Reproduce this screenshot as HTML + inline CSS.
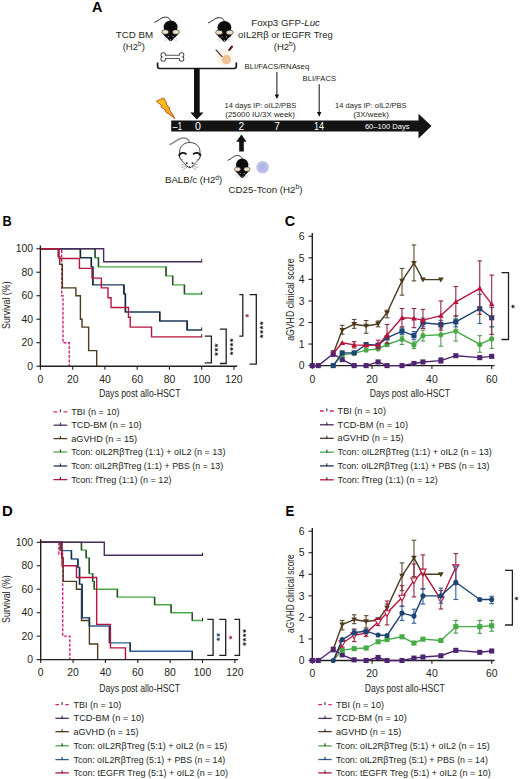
<!DOCTYPE html>
<html><head><meta charset="utf-8"><title>Figure</title><style>html,body{margin:0;padding:0;background:#fff;width:520px;height:779px;overflow:hidden;}svg{display:block;font-family:"Liberation Sans",sans-serif;}</style></head><body>
<svg width="520" height="779" viewBox="0 0 520 779" font-family="Liberation Sans, sans-serif">
<rect width="520" height="779" fill="#fff"/>
<text x="92.10" y="11.90" font-size="13.8" font-weight="bold" fill="#000" textLength="10.40" lengthAdjust="spacingAndGlyphs">A</text>
<text x="115.70" y="38.30" font-size="9.5" fill="#231f20" textLength="37.40" lengthAdjust="spacingAndGlyphs">TCD BM</text>
<text x="122.70" y="49.80" font-size="9.5" fill="#231f20">(H2<tspan font-size="6.5" dy="-3.6">b</tspan><tspan dy="3.6">)</tspan></text>
<text x="251.20" y="25.80" font-size="9.5" fill="#231f20" textLength="68.80" lengthAdjust="spacingAndGlyphs">Foxp3 GFP-<tspan font-style="italic">Luc</tspan></text>
<text x="238.10" y="38.00" font-size="9.5" fill="#231f20" textLength="94.60" lengthAdjust="spacingAndGlyphs">oIL2R&#946; or tEGFR Treg</text>
<text x="273.80" y="49.50" font-size="9.5" fill="#231f20">(H2<tspan font-size="6.5" dy="-3.6">b</tspan><tspan dy="3.6">)</tspan></text>
<text x="244.60" y="68.80" font-size="7.3" fill="#231f20" textLength="64.60" lengthAdjust="spacingAndGlyphs">BLI/FACS/RNAseq</text>
<text x="302.60" y="81.00" font-size="7.3" fill="#231f20" textLength="33.40" lengthAdjust="spacingAndGlyphs">BLI/FACS</text>
<text x="224.60" y="108.20" font-size="7.6" fill="#231f20" textLength="71.60" lengthAdjust="spacingAndGlyphs">14 days IP: oIL2/PBS</text>
<text x="225.30" y="117.10" font-size="7.6" fill="#231f20" textLength="69.60" lengthAdjust="spacingAndGlyphs">(25000 IU/3X week)</text>
<text x="335.10" y="108.10" font-size="7.6" fill="#231f20" textLength="71.40" lengthAdjust="spacingAndGlyphs">14 days IP: oIL2/PBS</text>
<text x="353.20" y="117.00" font-size="7.6" fill="#231f20" textLength="35.60" lengthAdjust="spacingAndGlyphs">(3X/week)</text>
<path d="M157.6,62.4 L157.6,66.3 Q157.6,68.5 159.8,68.5 L234.1,68.5 Q236.3,68.5 236.3,66.3 L236.3,62.4" fill="none" stroke="#1a1a1a" stroke-width="1.7"/>
<rect x="194.0" y="68" width="5.7" height="45" fill="#111"/>
<path d="M190.2,112.5 L203.5,112.5 L196.85,119.5 Z" fill="#111"/>
<line x1="276.90" y1="72.00" x2="276.90" y2="96.00" stroke="#111" stroke-width="1.0"/>
<path d="M274.6,94.5 L279.2,94.5 L276.9,99 Z" fill="#111"/>
<line x1="319.20" y1="84.20" x2="319.20" y2="113.50" stroke="#111" stroke-width="1.0"/>
<path d="M316.9,112 L321.5,112 L319.2,116.8 Z" fill="#111"/>
<path d="M171.2,120.6 L418.5,120.6 L418.5,113.8 L431.5,126 L418.5,138.4 L418.5,131.6 L171.2,131.6 Z" fill="#141414"/>
<text x="172.80" y="129.90" font-size="10.2" fill="#fff" textLength="9.40" lengthAdjust="spacingAndGlyphs">&#8211;1</text>
<text x="194.90" y="129.90" font-size="10.2" fill="#fff" textLength="5.90" lengthAdjust="spacingAndGlyphs">0</text>
<text x="238.50" y="129.90" font-size="10.2" fill="#fff" textLength="5.60" lengthAdjust="spacingAndGlyphs">2</text>
<text x="274.30" y="129.90" font-size="10.2" fill="#fff" textLength="5.60" lengthAdjust="spacingAndGlyphs">7</text>
<text x="314.00" y="129.90" font-size="10.2" fill="#fff" textLength="10.10" lengthAdjust="spacingAndGlyphs">14</text>
<text x="364.90" y="129.00" font-size="7.6" fill="#fff" textLength="44.70" lengthAdjust="spacingAndGlyphs">60&#8211;100 Days</text>
<rect x="239.2" y="140.5" width="4.6" height="11" fill="#111"/>
<path d="M236.2,141.8 L246.6,141.8 L241.4,134.6 Z" fill="#111"/>
<defs><linearGradient id="boltg" x1="0" y1="0" x2="0.6" y2="1"><stop offset="0" stop-color="#ffc81a"/><stop offset="1" stop-color="#f5a01c"/></linearGradient></defs>
<path d="M156.3,101.2 L163.5,97.9 L166.8,103.2 L166.0,103.9 L169.9,108.2 L169.1,108.9 L175.0,118.6 L165.0,111.3 L165.9,110.5 L160.8,106.6 L161.8,105.6 Z" fill="url(#boltg)" stroke="#b0501a" stroke-width="0.9" stroke-linejoin="round"/>
<text x="165.00" y="183.40" font-size="9.8" fill="#231f20" textLength="57.20" lengthAdjust="spacingAndGlyphs">BALB/c (H2<tspan font-size="6.7" dy="-3.7">d</tspan><tspan dy="3.7">)</tspan></text>
<text x="228.60" y="192.80" font-size="9.8" fill="#231f20" textLength="73.80" lengthAdjust="spacingAndGlyphs">CD25-Tcon (H2<tspan font-size="6.7" dy="-3.7">b</tspan><tspan dy="3.7">)</tspan></text>
<defs><radialGradient id="cellg"><stop offset="0" stop-color="#aab0e2"/><stop offset="0.6" stop-color="#b6bae8"/><stop offset="1" stop-color="#c4c8ee"/></radialGradient><radialGradient id="tregg"><stop offset="0" stop-color="#f6c89c"/><stop offset="1" stop-color="#eeb888"/></radialGradient></defs>
<circle cx="262.6" cy="167.2" r="6.3" fill="url(#cellg)"/>
<text x="2.50" y="225.60" font-size="14" font-weight="bold" fill="#000" textLength="9.20" lengthAdjust="spacingAndGlyphs">B</text>
<polyline points="40.40,248.75 61.69,248.75 61.69,295.73 62.98,295.73 62.98,342.71 69.27,342.71 69.27,366.20" fill="none" stroke="#d8207e" stroke-width="1.4" stroke-dasharray="3,1.5" stroke-linejoin="miter" stroke-linecap="butt"/>
<polyline points="40.40,248.75 58.14,248.75 58.14,256.62 59.76,256.62 59.76,264.37 62.34,264.37 62.34,287.86 75.89,287.86 75.89,295.73 80.40,295.73 80.40,319.22 82.02,319.22 82.02,327.09 88.63,327.09 88.63,350.58 96.69,350.58 96.69,366.20" fill="none" stroke="#4e3a1e" stroke-width="1.4" stroke-linejoin="miter" stroke-linecap="butt"/>
<polyline points="40.40,248.75 95.08,248.75 95.08,257.79 98.47,257.79 98.47,266.84 166.05,266.84 166.05,275.88 172.67,275.88 172.67,284.92 184.44,284.92 184.44,293.97 201.70,293.97" fill="none" stroke="#46aa46" stroke-width="1.4" stroke-linejoin="miter" stroke-linecap="butt"/>
<line x1="95.08" y1="248.75" x2="95.08" y2="257.79" stroke="#2c452c" stroke-width="1.4"/>
<line x1="98.47" y1="257.79" x2="98.47" y2="266.84" stroke="#2c452c" stroke-width="1.4"/>
<line x1="166.05" y1="266.84" x2="166.05" y2="275.88" stroke="#2c452c" stroke-width="1.4"/>
<line x1="172.67" y1="275.88" x2="172.67" y2="284.92" stroke="#2c452c" stroke-width="1.4"/>
<line x1="184.44" y1="284.92" x2="184.44" y2="293.97" stroke="#2c452c" stroke-width="1.4"/>
<line x1="201.70" y1="294.57" x2="201.70" y2="291.37" stroke="#222" stroke-width="1.0"/>
<polyline points="40.40,248.75 80.40,248.75 80.40,257.79 91.37,257.79 91.37,266.84 92.82,266.84 92.82,284.92 123.95,284.92 123.95,293.97 125.41,293.97 125.41,311.94 159.76,311.94 159.76,320.98 187.18,320.98 187.18,330.03 201.70,330.03" fill="none" stroke="#1c3a5e" stroke-width="1.4" stroke-linejoin="miter" stroke-linecap="butt"/>
<line x1="80.40" y1="248.75" x2="80.40" y2="257.79" stroke="#14223a" stroke-width="1.4"/>
<line x1="91.37" y1="257.79" x2="91.37" y2="266.84" stroke="#14223a" stroke-width="1.4"/>
<line x1="92.82" y1="266.84" x2="92.82" y2="284.92" stroke="#14223a" stroke-width="1.4"/>
<line x1="123.95" y1="284.92" x2="123.95" y2="293.97" stroke="#14223a" stroke-width="1.4"/>
<line x1="125.41" y1="293.97" x2="125.41" y2="311.94" stroke="#14223a" stroke-width="1.4"/>
<line x1="159.76" y1="311.94" x2="159.76" y2="320.98" stroke="#14223a" stroke-width="1.4"/>
<line x1="187.18" y1="320.98" x2="187.18" y2="330.03" stroke="#14223a" stroke-width="1.4"/>
<line x1="201.70" y1="330.63" x2="201.70" y2="327.43" stroke="#222" stroke-width="1.0"/>
<polyline points="40.40,248.75 103.63,248.75 103.63,261.79 201.70,261.79" fill="none" stroke="#4a2c5e" stroke-width="1.4" stroke-linejoin="miter" stroke-linecap="butt"/>
<line x1="201.70" y1="262.39" x2="201.70" y2="259.19" stroke="#222" stroke-width="1.0"/>
<polyline points="40.40,248.75 59.11,248.75 59.11,258.50 79.43,258.50 79.43,268.36 92.02,268.36 92.02,278.11 101.37,278.11 101.37,287.86 107.98,287.86 107.98,297.73 111.05,297.73 111.05,307.47 128.47,307.47 128.47,317.22 130.24,317.22 130.24,327.09 151.54,327.09 151.54,336.84 201.70,336.84" fill="none" stroke="#b8143c" stroke-width="1.4" stroke-linejoin="miter" stroke-linecap="butt"/>
<line x1="201.70" y1="337.44" x2="201.70" y2="334.24" stroke="#222" stroke-width="1.0"/>
<line x1="40.40" y1="245.50" x2="40.40" y2="366.90" stroke="#231f20" stroke-width="1.4"/>
<line x1="39.70" y1="366.20" x2="237.20" y2="366.20" stroke="#231f20" stroke-width="1.4"/>
<line x1="36.40" y1="366.20" x2="40.40" y2="366.20" stroke="#231f20" stroke-width="1.1"/>
<text x="33.00" y="369.90" font-size="10.4" text-anchor="end" fill="#231f20">0</text>
<line x1="36.40" y1="342.71" x2="40.40" y2="342.71" stroke="#231f20" stroke-width="1.1"/>
<text x="33.00" y="346.41" font-size="10.4" text-anchor="end" fill="#231f20">20</text>
<line x1="36.40" y1="319.22" x2="40.40" y2="319.22" stroke="#231f20" stroke-width="1.1"/>
<text x="33.00" y="322.92" font-size="10.4" text-anchor="end" fill="#231f20">40</text>
<line x1="36.40" y1="295.73" x2="40.40" y2="295.73" stroke="#231f20" stroke-width="1.1"/>
<text x="33.00" y="299.43" font-size="10.4" text-anchor="end" fill="#231f20">60</text>
<line x1="36.40" y1="272.24" x2="40.40" y2="272.24" stroke="#231f20" stroke-width="1.1"/>
<text x="33.00" y="275.94" font-size="10.4" text-anchor="end" fill="#231f20">80</text>
<line x1="36.40" y1="248.75" x2="40.40" y2="248.75" stroke="#231f20" stroke-width="1.1"/>
<text x="33.00" y="252.45" font-size="10.4" text-anchor="end" fill="#231f20">100</text>
<line x1="40.40" y1="366.20" x2="40.40" y2="369.70" stroke="#231f20" stroke-width="1.1"/>
<text x="40.40" y="383.10" font-size="10.4" text-anchor="middle" fill="#231f20">0</text>
<line x1="72.66" y1="366.20" x2="72.66" y2="369.70" stroke="#231f20" stroke-width="1.1"/>
<text x="72.66" y="383.10" font-size="10.4" text-anchor="middle" fill="#231f20">20</text>
<line x1="104.92" y1="366.20" x2="104.92" y2="369.70" stroke="#231f20" stroke-width="1.1"/>
<text x="104.92" y="383.10" font-size="10.4" text-anchor="middle" fill="#231f20">40</text>
<line x1="137.18" y1="366.20" x2="137.18" y2="369.70" stroke="#231f20" stroke-width="1.1"/>
<text x="137.18" y="383.10" font-size="10.4" text-anchor="middle" fill="#231f20">60</text>
<line x1="169.44" y1="366.20" x2="169.44" y2="369.70" stroke="#231f20" stroke-width="1.1"/>
<text x="169.44" y="383.10" font-size="10.4" text-anchor="middle" fill="#231f20">80</text>
<line x1="201.70" y1="366.20" x2="201.70" y2="369.70" stroke="#231f20" stroke-width="1.1"/>
<text x="201.70" y="383.10" font-size="10.4" text-anchor="middle" fill="#231f20">100</text>
<line x1="233.96" y1="366.20" x2="233.96" y2="369.70" stroke="#231f20" stroke-width="1.1"/>
<text x="233.96" y="383.10" font-size="10.4" text-anchor="middle" fill="#231f20">120</text>
<text x="98.90" y="397.30" font-size="10.4" fill="#231f20" textLength="81.60" lengthAdjust="spacingAndGlyphs">Days post allo-HSCT</text>
<text transform="translate(10.40,305.20) rotate(-90)" font-size="10.4" text-anchor="middle" fill="#231f20" textLength="47.60" lengthAdjust="spacingAndGlyphs">Survival (%)</text>
<polyline points="204.70,336.20 211.40,336.20 211.40,362.90 204.70,362.90" fill="none" stroke="#231f20" stroke-width="1.3"/>
<polygon points="214.47,345.40 215.70,344.93 215.77,343.61 216.60,344.63 217.87,344.29 217.16,345.40 217.87,346.51 216.60,346.17 215.77,347.19 215.70,345.87" fill="#231f20" stroke="#231f20" stroke-width="0.35" stroke-linejoin="round"/>
<polygon points="214.47,349.75 215.70,349.28 215.77,347.96 216.60,348.98 217.87,348.64 217.16,349.75 217.87,350.86 216.60,350.52 215.77,351.54 215.70,350.22" fill="#231f20" stroke="#231f20" stroke-width="0.35" stroke-linejoin="round"/>
<polygon points="214.47,354.10 215.70,353.63 215.77,352.31 216.60,353.33 217.87,352.99 217.16,354.10 217.87,355.21 216.60,354.87 215.77,355.89 215.70,354.57" fill="#231f20" stroke="#231f20" stroke-width="0.35" stroke-linejoin="round"/>
<polyline points="219.90,329.20 226.20,329.20 226.20,363.50 219.90,363.50" fill="none" stroke="#231f20" stroke-width="1.3"/>
<polygon points="229.72,340.30 230.95,339.83 231.02,338.51 231.85,339.53 233.12,339.19 232.41,340.30 233.12,341.41 231.85,341.07 231.02,342.09 230.95,340.77" fill="#231f20" stroke="#231f20" stroke-width="0.35" stroke-linejoin="round"/>
<polygon points="229.72,344.65 230.95,344.18 231.02,342.86 231.85,343.88 233.12,343.54 232.41,344.65 233.12,345.76 231.85,345.42 231.02,346.44 230.95,345.12" fill="#231f20" stroke="#231f20" stroke-width="0.35" stroke-linejoin="round"/>
<polygon points="229.72,349.00 230.95,348.53 231.02,347.21 231.85,348.23 233.12,347.89 232.41,349.00 233.12,350.11 231.85,349.77 231.02,350.79 230.95,349.47" fill="#231f20" stroke="#231f20" stroke-width="0.35" stroke-linejoin="round"/>
<polygon points="229.72,353.35 230.95,352.88 231.02,351.56 231.85,352.58 233.12,352.24 232.41,353.35 233.12,354.46 231.85,354.12 231.02,355.14 230.95,353.82" fill="#231f20" stroke="#231f20" stroke-width="0.35" stroke-linejoin="round"/>
<polyline points="239.30,294.60 242.80,294.60 242.80,336.20 239.30,336.20" fill="none" stroke="#231f20" stroke-width="1.3"/>
<polygon points="245.31,315.70 246.55,315.23 246.62,313.91 247.45,314.93 248.72,314.59 248.01,315.70 248.72,316.81 247.45,316.47 246.62,317.49 246.55,316.17" fill="#9a1c44" stroke="#9a1c44" stroke-width="0.35" stroke-linejoin="round"/>
<polyline points="249.50,294.60 256.30,294.60 256.30,364.20 249.50,364.20" fill="none" stroke="#231f20" stroke-width="1.3"/>
<polygon points="259.72,323.20 260.95,322.73 261.02,321.41 261.85,322.43 263.12,322.09 262.41,323.20 263.12,324.31 261.85,323.97 261.02,324.99 260.95,323.67" fill="#231f20" stroke="#231f20" stroke-width="0.35" stroke-linejoin="round"/>
<polygon points="259.72,327.55 260.95,327.08 261.02,325.76 261.85,326.78 263.12,326.44 262.41,327.55 263.12,328.66 261.85,328.32 261.02,329.34 260.95,328.02" fill="#231f20" stroke="#231f20" stroke-width="0.35" stroke-linejoin="round"/>
<polygon points="259.72,331.90 260.95,331.43 261.02,330.11 261.85,331.13 263.12,330.79 262.41,331.90 263.12,333.01 261.85,332.67 261.02,333.69 260.95,332.37" fill="#231f20" stroke="#231f20" stroke-width="0.35" stroke-linejoin="round"/>
<polygon points="259.72,336.25 260.95,335.78 261.02,334.46 261.85,335.48 263.12,335.14 262.41,336.25 263.12,337.36 261.85,337.02 261.02,338.04 260.95,336.72" fill="#231f20" stroke="#231f20" stroke-width="0.35" stroke-linejoin="round"/>
<line x1="53.50" y1="411.90" x2="67.20" y2="411.90" stroke="#d8207e" stroke-width="1.3" stroke-dasharray="3.7,6.3,3.7"/>
<line x1="60.35" y1="409.30" x2="60.35" y2="412.30" stroke="#231f20" stroke-width="1.0"/>
<text x="71.20" y="414.90" font-size="8.8" fill="#231f20" textLength="48.40" lengthAdjust="spacingAndGlyphs">TBI (n = 10)</text>
<line x1="53.50" y1="425.20" x2="67.20" y2="425.20" stroke="#4a2c5e" stroke-width="1.3"/>
<line x1="60.35" y1="422.60" x2="60.35" y2="425.60" stroke="#231f20" stroke-width="1.0"/>
<text x="71.20" y="428.20" font-size="8.8" fill="#231f20" textLength="70.40" lengthAdjust="spacingAndGlyphs">TCD-BM (n = 10)</text>
<line x1="53.50" y1="438.60" x2="67.20" y2="438.60" stroke="#4e3a1e" stroke-width="1.3"/>
<line x1="60.35" y1="436.00" x2="60.35" y2="439.00" stroke="#231f20" stroke-width="1.0"/>
<text x="71.20" y="441.60" font-size="8.8" fill="#231f20" textLength="66.00" lengthAdjust="spacingAndGlyphs">aGVHD (n = 15)</text>
<line x1="53.50" y1="452.00" x2="67.20" y2="452.00" stroke="#46aa46" stroke-width="1.3"/>
<line x1="60.35" y1="449.40" x2="60.35" y2="452.40" stroke="#231f20" stroke-width="1.0"/>
<text x="71.20" y="455.00" font-size="8.8" fill="#231f20" textLength="154.20" lengthAdjust="spacingAndGlyphs">Tcon: oIL2R&#946;Treg (1:1) + oIL2 (n = 13)</text>
<line x1="53.50" y1="466.00" x2="67.20" y2="466.00" stroke="#1c3a5e" stroke-width="1.3"/>
<line x1="60.35" y1="463.40" x2="60.35" y2="466.40" stroke="#231f20" stroke-width="1.0"/>
<text x="71.20" y="469.00" font-size="8.8" fill="#231f20" textLength="151.90" lengthAdjust="spacingAndGlyphs">Tcon: oIL2R&#946;Treg (1:1) + PBS (n = 13)</text>
<line x1="53.50" y1="479.60" x2="67.20" y2="479.60" stroke="#b8143c" stroke-width="1.3"/>
<line x1="60.35" y1="477.00" x2="60.35" y2="480.00" stroke="#231f20" stroke-width="1.0"/>
<text x="71.20" y="482.60" font-size="8.8" fill="#231f20" textLength="100.30" lengthAdjust="spacingAndGlyphs">Tcon: fTreg (1:1) (n = 12)</text>
<text x="284.80" y="225.80" font-size="14" font-weight="bold" fill="#000" textLength="10.40" lengthAdjust="spacingAndGlyphs">C</text>
<line x1="312.30" y1="233.00" x2="312.30" y2="366.30" stroke="#231f20" stroke-width="1.4"/>
<line x1="311.60" y1="365.60" x2="494.50" y2="365.60" stroke="#231f20" stroke-width="1.4"/>
<line x1="308.50" y1="365.60" x2="312.30" y2="365.60" stroke="#231f20" stroke-width="1.1"/>
<text x="304.60" y="369.30" font-size="10.4" text-anchor="end" fill="#231f20">0</text>
<line x1="308.50" y1="344.05" x2="312.30" y2="344.05" stroke="#231f20" stroke-width="1.1"/>
<text x="304.60" y="347.75" font-size="10.4" text-anchor="end" fill="#231f20">1</text>
<line x1="308.50" y1="322.50" x2="312.30" y2="322.50" stroke="#231f20" stroke-width="1.1"/>
<text x="304.60" y="326.20" font-size="10.4" text-anchor="end" fill="#231f20">2</text>
<line x1="308.50" y1="300.95" x2="312.30" y2="300.95" stroke="#231f20" stroke-width="1.1"/>
<text x="304.60" y="304.65" font-size="10.4" text-anchor="end" fill="#231f20">3</text>
<line x1="308.50" y1="279.40" x2="312.30" y2="279.40" stroke="#231f20" stroke-width="1.1"/>
<text x="304.60" y="283.10" font-size="10.4" text-anchor="end" fill="#231f20">4</text>
<line x1="308.50" y1="257.85" x2="312.30" y2="257.85" stroke="#231f20" stroke-width="1.1"/>
<text x="304.60" y="261.55" font-size="10.4" text-anchor="end" fill="#231f20">5</text>
<line x1="308.50" y1="236.30" x2="312.30" y2="236.30" stroke="#231f20" stroke-width="1.1"/>
<text x="304.60" y="240.00" font-size="10.4" text-anchor="end" fill="#231f20">6</text>
<line x1="312.30" y1="365.60" x2="312.30" y2="368.90" stroke="#231f20" stroke-width="1.1"/>
<text x="312.30" y="382.60" font-size="10.4" text-anchor="middle" fill="#231f20">0</text>
<line x1="372.10" y1="365.60" x2="372.10" y2="368.90" stroke="#231f20" stroke-width="1.1"/>
<text x="372.10" y="382.60" font-size="10.4" text-anchor="middle" fill="#231f20">20</text>
<line x1="431.90" y1="365.60" x2="431.90" y2="368.90" stroke="#231f20" stroke-width="1.1"/>
<text x="431.90" y="382.60" font-size="10.4" text-anchor="middle" fill="#231f20">40</text>
<line x1="491.70" y1="365.60" x2="491.70" y2="368.90" stroke="#231f20" stroke-width="1.1"/>
<text x="491.70" y="382.60" font-size="10.4" text-anchor="middle" fill="#231f20">60</text>
<text x="369.80" y="397.20" font-size="10.4" fill="#231f20" textLength="80.20" lengthAdjust="spacingAndGlyphs">Days post allo-HSCT</text>
<text transform="translate(294.00,299.65) rotate(-90)" font-size="10.4" text-anchor="middle" fill="#231f20" textLength="82.40" lengthAdjust="spacingAndGlyphs">aGVHD clinical score</text>
<line x1="333.23" y1="356.55" x2="333.23" y2="350.52" stroke="#5a3a78" stroke-width="1.1"/>
<line x1="330.93" y1="356.55" x2="335.53" y2="356.55" stroke="#5a3a78" stroke-width="1.1"/>
<line x1="330.93" y1="350.52" x2="335.53" y2="350.52" stroke="#5a3a78" stroke-width="1.1"/>
<line x1="440.87" y1="363.01" x2="440.87" y2="357.84" stroke="#5a3a78" stroke-width="1.1"/>
<line x1="438.57" y1="363.01" x2="443.17" y2="363.01" stroke="#5a3a78" stroke-width="1.1"/>
<line x1="438.57" y1="357.84" x2="443.17" y2="357.84" stroke="#5a3a78" stroke-width="1.1"/>
<polyline points="312.30,365.60 318.28,365.60 333.23,353.75 342.20,359.57 354.16,365.60 366.12,365.60 378.08,361.94 387.05,365.60 402.00,365.60 413.96,363.45 422.93,361.94 440.87,360.64 455.82,355.69 479.74,357.63 491.70,356.33" fill="none" stroke="#4e2472" stroke-width="1.4" stroke-linejoin="round"/>
<rect x="309.75" y="363.05" width="5.10" height="5.10" fill="#4e2472"/>
<rect x="315.73" y="363.05" width="5.10" height="5.10" fill="#4e2472"/>
<rect x="330.68" y="351.20" width="5.10" height="5.10" fill="#4e2472"/>
<rect x="339.65" y="357.02" width="5.10" height="5.10" fill="#4e2472"/>
<rect x="351.61" y="363.05" width="5.10" height="5.10" fill="#4e2472"/>
<rect x="363.57" y="363.05" width="5.10" height="5.10" fill="#4e2472"/>
<rect x="375.53" y="359.39" width="5.10" height="5.10" fill="#4e2472"/>
<rect x="384.50" y="363.05" width="5.10" height="5.10" fill="#4e2472"/>
<rect x="399.45" y="363.05" width="5.10" height="5.10" fill="#4e2472"/>
<rect x="411.41" y="360.90" width="5.10" height="5.10" fill="#4e2472"/>
<rect x="420.38" y="359.39" width="5.10" height="5.10" fill="#4e2472"/>
<rect x="438.32" y="358.09" width="5.10" height="5.10" fill="#4e2472"/>
<rect x="453.27" y="353.14" width="5.10" height="5.10" fill="#4e2472"/>
<rect x="477.19" y="355.08" width="5.10" height="5.10" fill="#4e2472"/>
<rect x="489.15" y="353.78" width="5.10" height="5.10" fill="#4e2472"/>
<line x1="342.20" y1="334.14" x2="342.20" y2="325.30" stroke="#5e4a30" stroke-width="1.1"/>
<line x1="339.90" y1="334.14" x2="344.50" y2="334.14" stroke="#5e4a30" stroke-width="1.1"/>
<line x1="339.90" y1="325.30" x2="344.50" y2="325.30" stroke="#5e4a30" stroke-width="1.1"/>
<line x1="354.16" y1="328.32" x2="354.16" y2="319.48" stroke="#5e4a30" stroke-width="1.1"/>
<line x1="351.86" y1="328.32" x2="356.46" y2="328.32" stroke="#5e4a30" stroke-width="1.1"/>
<line x1="351.86" y1="319.48" x2="356.46" y2="319.48" stroke="#5e4a30" stroke-width="1.1"/>
<line x1="366.12" y1="333.28" x2="366.12" y2="320.56" stroke="#5e4a30" stroke-width="1.1"/>
<line x1="363.82" y1="333.28" x2="368.42" y2="333.28" stroke="#5e4a30" stroke-width="1.1"/>
<line x1="363.82" y1="320.56" x2="368.42" y2="320.56" stroke="#5e4a30" stroke-width="1.1"/>
<line x1="378.08" y1="326.81" x2="378.08" y2="320.99" stroke="#5e4a30" stroke-width="1.1"/>
<line x1="375.78" y1="326.81" x2="380.38" y2="326.81" stroke="#5e4a30" stroke-width="1.1"/>
<line x1="375.78" y1="320.99" x2="380.38" y2="320.99" stroke="#5e4a30" stroke-width="1.1"/>
<line x1="387.05" y1="317.76" x2="387.05" y2="310.22" stroke="#5e4a30" stroke-width="1.1"/>
<line x1="384.75" y1="317.76" x2="389.35" y2="317.76" stroke="#5e4a30" stroke-width="1.1"/>
<line x1="384.75" y1="310.22" x2="389.35" y2="310.22" stroke="#5e4a30" stroke-width="1.1"/>
<line x1="402.00" y1="295.13" x2="402.00" y2="268.41" stroke="#5e4a30" stroke-width="1.1"/>
<line x1="399.70" y1="295.13" x2="404.30" y2="295.13" stroke="#5e4a30" stroke-width="1.1"/>
<line x1="399.70" y1="268.41" x2="404.30" y2="268.41" stroke="#5e4a30" stroke-width="1.1"/>
<line x1="413.96" y1="280.91" x2="413.96" y2="244.92" stroke="#5e4a30" stroke-width="1.1"/>
<line x1="411.66" y1="280.91" x2="416.26" y2="280.91" stroke="#5e4a30" stroke-width="1.1"/>
<line x1="411.66" y1="244.92" x2="416.26" y2="244.92" stroke="#5e4a30" stroke-width="1.1"/>
<polyline points="333.23,353.75 342.20,330.04 354.16,324.22 366.12,325.95 378.08,324.01 387.05,312.80 402.00,280.91 413.96,263.02 422.93,279.62 440.87,279.62" fill="none" stroke="#4e3a1e" stroke-width="1.4" stroke-linejoin="round"/>
<path d="M342.20,332.89 L345.05,327.91 L339.35,327.91 Z" fill="#4e3a1e"/>
<path d="M354.16,327.07 L357.01,322.09 L351.31,322.09 Z" fill="#4e3a1e"/>
<path d="M366.12,328.80 L368.97,323.81 L363.27,323.81 Z" fill="#4e3a1e"/>
<path d="M378.08,326.86 L380.93,321.87 L375.23,321.87 Z" fill="#4e3a1e"/>
<path d="M387.05,315.65 L389.90,310.67 L384.20,310.67 Z" fill="#4e3a1e"/>
<path d="M402.00,283.76 L404.85,278.77 L399.15,278.77 Z" fill="#4e3a1e"/>
<path d="M413.96,265.87 L416.81,260.88 L411.11,260.88 Z" fill="#4e3a1e"/>
<path d="M422.93,282.47 L425.78,277.48 L420.08,277.48 Z" fill="#4e3a1e"/>
<path d="M440.87,282.47 L443.72,277.48 L438.02,277.48 Z" fill="#4e3a1e"/>
<line x1="387.05" y1="346.64" x2="387.05" y2="342.33" stroke="#5a9a5a" stroke-width="1.1"/>
<line x1="384.75" y1="346.64" x2="389.35" y2="346.64" stroke="#5a9a5a" stroke-width="1.1"/>
<line x1="384.75" y1="342.33" x2="389.35" y2="342.33" stroke="#5a9a5a" stroke-width="1.1"/>
<line x1="402.00" y1="344.48" x2="402.00" y2="336.08" stroke="#5a9a5a" stroke-width="1.1"/>
<line x1="399.70" y1="344.48" x2="404.30" y2="344.48" stroke="#5a9a5a" stroke-width="1.1"/>
<line x1="399.70" y1="336.08" x2="404.30" y2="336.08" stroke="#5a9a5a" stroke-width="1.1"/>
<line x1="413.96" y1="348.58" x2="413.96" y2="341.90" stroke="#5a9a5a" stroke-width="1.1"/>
<line x1="411.66" y1="348.58" x2="416.26" y2="348.58" stroke="#5a9a5a" stroke-width="1.1"/>
<line x1="411.66" y1="341.90" x2="416.26" y2="341.90" stroke="#5a9a5a" stroke-width="1.1"/>
<line x1="422.93" y1="341.03" x2="422.93" y2="330.26" stroke="#5a9a5a" stroke-width="1.1"/>
<line x1="420.63" y1="341.03" x2="425.23" y2="341.03" stroke="#5a9a5a" stroke-width="1.1"/>
<line x1="420.63" y1="330.26" x2="425.23" y2="330.26" stroke="#5a9a5a" stroke-width="1.1"/>
<line x1="440.87" y1="346.21" x2="440.87" y2="323.58" stroke="#5a9a5a" stroke-width="1.1"/>
<line x1="438.57" y1="346.21" x2="443.17" y2="346.21" stroke="#5a9a5a" stroke-width="1.1"/>
<line x1="438.57" y1="323.58" x2="443.17" y2="323.58" stroke="#5a9a5a" stroke-width="1.1"/>
<line x1="455.82" y1="341.03" x2="455.82" y2="318.62" stroke="#5a9a5a" stroke-width="1.1"/>
<line x1="453.52" y1="341.03" x2="458.12" y2="341.03" stroke="#5a9a5a" stroke-width="1.1"/>
<line x1="453.52" y1="318.62" x2="458.12" y2="318.62" stroke="#5a9a5a" stroke-width="1.1"/>
<line x1="479.74" y1="352.24" x2="479.74" y2="335.65" stroke="#5a9a5a" stroke-width="1.1"/>
<line x1="477.44" y1="352.24" x2="482.04" y2="352.24" stroke="#5a9a5a" stroke-width="1.1"/>
<line x1="477.44" y1="335.65" x2="482.04" y2="335.65" stroke="#5a9a5a" stroke-width="1.1"/>
<line x1="491.70" y1="348.36" x2="491.70" y2="326.81" stroke="#5a9a5a" stroke-width="1.1"/>
<line x1="489.40" y1="348.36" x2="494.00" y2="348.36" stroke="#5a9a5a" stroke-width="1.1"/>
<line x1="489.40" y1="326.81" x2="494.00" y2="326.81" stroke="#5a9a5a" stroke-width="1.1"/>
<polyline points="333.23,365.60 342.20,354.83 354.16,353.32 366.12,350.08 378.08,349.01 387.05,344.48 402.00,339.31 413.96,344.91 422.93,335.65 440.87,334.78 455.82,331.12 479.74,344.48 491.70,338.88" fill="none" stroke="#46aa46" stroke-width="1.4" stroke-linejoin="round"/>
<circle cx="342.20" cy="354.83" r="2.55" fill="#46aa46"/>
<circle cx="354.16" cy="353.32" r="2.55" fill="#46aa46"/>
<circle cx="366.12" cy="350.08" r="2.55" fill="#46aa46"/>
<circle cx="378.08" cy="349.01" r="2.55" fill="#46aa46"/>
<circle cx="387.05" cy="344.48" r="2.55" fill="#46aa46"/>
<circle cx="402.00" cy="339.31" r="2.55" fill="#46aa46"/>
<circle cx="413.96" cy="344.91" r="2.55" fill="#46aa46"/>
<circle cx="422.93" cy="335.65" r="2.55" fill="#46aa46"/>
<circle cx="440.87" cy="334.78" r="2.55" fill="#46aa46"/>
<circle cx="455.82" cy="331.12" r="2.55" fill="#46aa46"/>
<circle cx="479.74" cy="344.48" r="2.55" fill="#46aa46"/>
<circle cx="491.70" cy="338.88" r="2.55" fill="#46aa46"/>
<line x1="402.00" y1="334.35" x2="402.00" y2="327.89" stroke="#2f5f95" stroke-width="1.1"/>
<line x1="399.70" y1="334.35" x2="404.30" y2="334.35" stroke="#2f5f95" stroke-width="1.1"/>
<line x1="399.70" y1="327.89" x2="404.30" y2="327.89" stroke="#2f5f95" stroke-width="1.1"/>
<line x1="413.96" y1="339.74" x2="413.96" y2="331.55" stroke="#2f5f95" stroke-width="1.1"/>
<line x1="411.66" y1="339.74" x2="416.26" y2="339.74" stroke="#2f5f95" stroke-width="1.1"/>
<line x1="411.66" y1="331.55" x2="416.26" y2="331.55" stroke="#2f5f95" stroke-width="1.1"/>
<line x1="422.93" y1="326.81" x2="422.93" y2="318.19" stroke="#2f5f95" stroke-width="1.1"/>
<line x1="420.63" y1="326.81" x2="425.23" y2="326.81" stroke="#2f5f95" stroke-width="1.1"/>
<line x1="420.63" y1="318.19" x2="425.23" y2="318.19" stroke="#2f5f95" stroke-width="1.1"/>
<line x1="440.87" y1="327.89" x2="440.87" y2="320.35" stroke="#2f5f95" stroke-width="1.1"/>
<line x1="438.57" y1="327.89" x2="443.17" y2="327.89" stroke="#2f5f95" stroke-width="1.1"/>
<line x1="438.57" y1="320.35" x2="443.17" y2="320.35" stroke="#2f5f95" stroke-width="1.1"/>
<line x1="455.82" y1="326.81" x2="455.82" y2="316.04" stroke="#2f5f95" stroke-width="1.1"/>
<line x1="453.52" y1="326.81" x2="458.12" y2="326.81" stroke="#2f5f95" stroke-width="1.1"/>
<line x1="453.52" y1="316.04" x2="458.12" y2="316.04" stroke="#2f5f95" stroke-width="1.1"/>
<line x1="479.74" y1="323.58" x2="479.74" y2="294.27" stroke="#2f5f95" stroke-width="1.1"/>
<line x1="477.44" y1="323.58" x2="482.04" y2="323.58" stroke="#2f5f95" stroke-width="1.1"/>
<line x1="477.44" y1="294.27" x2="482.04" y2="294.27" stroke="#2f5f95" stroke-width="1.1"/>
<line x1="491.70" y1="326.81" x2="491.70" y2="307.63" stroke="#2f5f95" stroke-width="1.1"/>
<line x1="489.40" y1="326.81" x2="494.00" y2="326.81" stroke="#2f5f95" stroke-width="1.1"/>
<line x1="489.40" y1="307.63" x2="494.00" y2="307.63" stroke="#2f5f95" stroke-width="1.1"/>
<polyline points="333.23,365.60 342.20,352.89 354.16,352.89 366.12,344.48 378.08,345.13 387.05,337.80 402.00,331.12 413.96,335.65 422.93,322.72 440.87,324.44 455.82,321.85 479.74,308.71 491.70,317.76" fill="none" stroke="#1d4474" stroke-width="1.4" stroke-linejoin="round"/>
<rect x="330.68" y="363.05" width="5.10" height="5.10" fill="#1d4474"/>
<rect x="339.65" y="350.34" width="5.10" height="5.10" fill="#1d4474"/>
<rect x="351.61" y="350.34" width="5.10" height="5.10" fill="#1d4474"/>
<rect x="363.57" y="341.93" width="5.10" height="5.10" fill="#1d4474"/>
<rect x="375.53" y="342.58" width="5.10" height="5.10" fill="#1d4474"/>
<rect x="384.50" y="335.25" width="5.10" height="5.10" fill="#1d4474"/>
<rect x="399.45" y="328.57" width="5.10" height="5.10" fill="#1d4474"/>
<rect x="411.41" y="333.10" width="5.10" height="5.10" fill="#1d4474"/>
<rect x="420.38" y="320.17" width="5.10" height="5.10" fill="#1d4474"/>
<rect x="438.32" y="321.89" width="5.10" height="5.10" fill="#1d4474"/>
<rect x="453.27" y="319.30" width="5.10" height="5.10" fill="#1d4474"/>
<rect x="477.19" y="306.16" width="5.10" height="5.10" fill="#1d4474"/>
<rect x="489.15" y="315.21" width="5.10" height="5.10" fill="#1d4474"/>
<line x1="354.16" y1="347.93" x2="354.16" y2="341.68" stroke="#962240" stroke-width="1.1"/>
<line x1="351.86" y1="347.93" x2="356.46" y2="347.93" stroke="#962240" stroke-width="1.1"/>
<line x1="351.86" y1="341.68" x2="356.46" y2="341.68" stroke="#962240" stroke-width="1.1"/>
<line x1="378.08" y1="348.58" x2="378.08" y2="340.17" stroke="#962240" stroke-width="1.1"/>
<line x1="375.78" y1="348.58" x2="380.38" y2="348.58" stroke="#962240" stroke-width="1.1"/>
<line x1="375.78" y1="340.17" x2="380.38" y2="340.17" stroke="#962240" stroke-width="1.1"/>
<line x1="387.05" y1="343.62" x2="387.05" y2="324.44" stroke="#962240" stroke-width="1.1"/>
<line x1="384.75" y1="343.62" x2="389.35" y2="343.62" stroke="#962240" stroke-width="1.1"/>
<line x1="384.75" y1="324.44" x2="389.35" y2="324.44" stroke="#962240" stroke-width="1.1"/>
<line x1="402.00" y1="326.81" x2="402.00" y2="308.49" stroke="#962240" stroke-width="1.1"/>
<line x1="399.70" y1="326.81" x2="404.30" y2="326.81" stroke="#962240" stroke-width="1.1"/>
<line x1="399.70" y1="308.49" x2="404.30" y2="308.49" stroke="#962240" stroke-width="1.1"/>
<line x1="413.96" y1="327.67" x2="413.96" y2="308.49" stroke="#962240" stroke-width="1.1"/>
<line x1="411.66" y1="327.67" x2="416.26" y2="327.67" stroke="#962240" stroke-width="1.1"/>
<line x1="411.66" y1="308.49" x2="416.26" y2="308.49" stroke="#962240" stroke-width="1.1"/>
<line x1="422.93" y1="328.53" x2="422.93" y2="309.35" stroke="#962240" stroke-width="1.1"/>
<line x1="420.63" y1="328.53" x2="425.23" y2="328.53" stroke="#962240" stroke-width="1.1"/>
<line x1="420.63" y1="309.35" x2="425.23" y2="309.35" stroke="#962240" stroke-width="1.1"/>
<line x1="440.87" y1="330.04" x2="440.87" y2="300.95" stroke="#962240" stroke-width="1.1"/>
<line x1="438.57" y1="330.04" x2="443.17" y2="330.04" stroke="#962240" stroke-width="1.1"/>
<line x1="438.57" y1="300.95" x2="443.17" y2="300.95" stroke="#962240" stroke-width="1.1"/>
<line x1="455.82" y1="316.04" x2="455.82" y2="286.51" stroke="#962240" stroke-width="1.1"/>
<line x1="453.52" y1="316.04" x2="458.12" y2="316.04" stroke="#962240" stroke-width="1.1"/>
<line x1="453.52" y1="286.51" x2="458.12" y2="286.51" stroke="#962240" stroke-width="1.1"/>
<line x1="479.74" y1="314.31" x2="479.74" y2="260.87" stroke="#962240" stroke-width="1.1"/>
<line x1="477.44" y1="314.31" x2="482.04" y2="314.31" stroke="#962240" stroke-width="1.1"/>
<line x1="477.44" y1="260.87" x2="482.04" y2="260.87" stroke="#962240" stroke-width="1.1"/>
<line x1="491.70" y1="334.35" x2="491.70" y2="275.09" stroke="#962240" stroke-width="1.1"/>
<line x1="489.40" y1="334.35" x2="494.00" y2="334.35" stroke="#962240" stroke-width="1.1"/>
<line x1="489.40" y1="275.09" x2="494.00" y2="275.09" stroke="#962240" stroke-width="1.1"/>
<polyline points="333.23,353.75 342.20,342.76 354.16,344.91 366.12,345.34 378.08,345.13 387.05,335.00 402.00,317.76 413.96,318.41 422.93,320.13 440.87,315.60 455.82,301.81 479.74,288.45 491.70,304.18" fill="none" stroke="#b8143c" stroke-width="1.4" stroke-linejoin="round"/>
<path d="M342.20,339.91 L345.05,344.89 L339.35,344.89 Z" fill="#b8143c"/>
<path d="M354.16,342.06 L357.01,347.05 L351.31,347.05 Z" fill="#b8143c"/>
<path d="M366.12,342.49 L368.97,347.48 L363.27,347.48 Z" fill="#b8143c"/>
<path d="M378.08,342.28 L380.93,347.26 L375.23,347.26 Z" fill="#b8143c"/>
<path d="M387.05,332.15 L389.90,337.14 L384.20,337.14 Z" fill="#b8143c"/>
<path d="M402.00,314.91 L404.85,319.90 L399.15,319.90 Z" fill="#b8143c"/>
<path d="M413.96,315.56 L416.81,320.54 L411.11,320.54 Z" fill="#b8143c"/>
<path d="M422.93,317.28 L425.78,322.27 L420.08,322.27 Z" fill="#b8143c"/>
<path d="M440.87,312.75 L443.72,317.74 L438.02,317.74 Z" fill="#b8143c"/>
<path d="M455.82,298.96 L458.67,303.95 L452.97,303.95 Z" fill="#b8143c"/>
<path d="M479.74,285.60 L482.59,290.59 L476.89,290.59 Z" fill="#b8143c"/>
<path d="M491.70,301.33 L494.55,306.32 L488.85,306.32 Z" fill="#b8143c"/>
<polyline points="501.50,272.60 508.50,272.60 508.50,339.50 501.50,339.50" fill="none" stroke="#231f20" stroke-width="1.3"/>
<polygon points="511.04,306.50 512.32,306.01 512.40,304.64 513.26,305.70 514.58,305.35 513.84,306.50 514.58,307.65 513.26,307.30 512.40,308.36 512.32,306.99" fill="#231f20" stroke="#231f20" stroke-width="0.35" stroke-linejoin="round"/>
<line x1="320.00" y1="411.00" x2="333.70" y2="411.00" stroke="#d8207e" stroke-width="1.3" stroke-dasharray="3.7,6.3,3.7"/>
<line x1="326.85" y1="408.40" x2="326.85" y2="411.40" stroke="#231f20" stroke-width="1.0"/>
<text x="337.60" y="414.00" font-size="8.8" fill="#231f20" textLength="48.40" lengthAdjust="spacingAndGlyphs">TBI (n = 10)</text>
<line x1="320.00" y1="424.80" x2="333.70" y2="424.80" stroke="#4a2c5e" stroke-width="1.3"/>
<line x1="326.85" y1="422.20" x2="326.85" y2="425.20" stroke="#231f20" stroke-width="1.0"/>
<text x="337.60" y="427.80" font-size="8.8" fill="#231f20" textLength="70.40" lengthAdjust="spacingAndGlyphs">TCD-BM (n = 10)</text>
<line x1="320.00" y1="438.30" x2="333.70" y2="438.30" stroke="#4e3a1e" stroke-width="1.3"/>
<line x1="326.85" y1="435.70" x2="326.85" y2="438.70" stroke="#231f20" stroke-width="1.0"/>
<text x="337.60" y="441.30" font-size="8.8" fill="#231f20" textLength="66.00" lengthAdjust="spacingAndGlyphs">aGVHD (n = 15)</text>
<line x1="320.00" y1="452.20" x2="333.70" y2="452.20" stroke="#46aa46" stroke-width="1.3"/>
<line x1="326.85" y1="449.60" x2="326.85" y2="452.60" stroke="#231f20" stroke-width="1.0"/>
<text x="337.60" y="455.20" font-size="8.8" fill="#231f20" textLength="154.20" lengthAdjust="spacingAndGlyphs">Tcon: oIL2R&#946;Treg (1:1) + oIL2 (n = 13)</text>
<line x1="320.00" y1="465.90" x2="333.70" y2="465.90" stroke="#1c3a5e" stroke-width="1.3"/>
<line x1="326.85" y1="463.30" x2="326.85" y2="466.30" stroke="#231f20" stroke-width="1.0"/>
<text x="337.60" y="468.90" font-size="8.8" fill="#231f20" textLength="151.90" lengthAdjust="spacingAndGlyphs">Tcon: oIL2R&#946;Treg (1:1) + PBS (n = 13)</text>
<line x1="320.00" y1="479.80" x2="333.70" y2="479.80" stroke="#b8143c" stroke-width="1.3"/>
<line x1="326.85" y1="477.20" x2="326.85" y2="480.20" stroke="#231f20" stroke-width="1.0"/>
<text x="337.60" y="482.80" font-size="8.8" fill="#231f20" textLength="100.30" lengthAdjust="spacingAndGlyphs">Tcon: fTreg (1:1) (n = 12)</text>
<text x="2.00" y="515.60" font-size="14" font-weight="bold" fill="#000" textLength="10.80" lengthAdjust="spacingAndGlyphs">D</text>
<polyline points="40.70,542.30 58.82,542.30 58.82,554.03 62.70,554.03 62.70,636.14 69.82,636.14 69.82,659.60" fill="none" stroke="#d8207e" stroke-width="1.4" stroke-dasharray="3,1.5" stroke-linejoin="miter" stroke-linecap="butt"/>
<polyline points="40.70,542.30 60.12,542.30 60.12,550.16 61.73,550.16 61.73,557.90 63.19,557.90 63.19,581.36 76.46,581.36 76.46,589.22 81.47,589.22 81.47,620.54 89.40,620.54 89.40,644.00 97.65,644.00 97.65,659.60" fill="none" stroke="#4e3a1e" stroke-width="1.4" stroke-linejoin="miter" stroke-linecap="butt"/>
<polyline points="40.70,542.30 81.47,542.30 81.47,550.16 86.17,550.16 86.17,557.90 89.24,557.90 89.24,573.62 92.64,573.62 92.64,581.36 94.26,581.36 94.26,589.22 117.39,589.22 117.39,597.08 154.61,597.08 154.61,604.82 171.11,604.82 171.11,612.68 192.31,612.68 192.31,620.54 202.50,620.54" fill="none" stroke="#46aa46" stroke-width="1.4" stroke-linejoin="miter" stroke-linecap="butt"/>
<line x1="81.47" y1="542.30" x2="81.47" y2="550.16" stroke="#2c452c" stroke-width="1.4"/>
<line x1="86.17" y1="550.16" x2="86.17" y2="557.90" stroke="#2c452c" stroke-width="1.4"/>
<line x1="89.24" y1="557.90" x2="89.24" y2="573.62" stroke="#2c452c" stroke-width="1.4"/>
<line x1="92.64" y1="573.62" x2="92.64" y2="581.36" stroke="#2c452c" stroke-width="1.4"/>
<line x1="94.26" y1="581.36" x2="94.26" y2="589.22" stroke="#2c452c" stroke-width="1.4"/>
<line x1="117.39" y1="589.22" x2="117.39" y2="597.08" stroke="#2c452c" stroke-width="1.4"/>
<line x1="154.61" y1="597.08" x2="154.61" y2="604.82" stroke="#2c452c" stroke-width="1.4"/>
<line x1="171.11" y1="604.82" x2="171.11" y2="612.68" stroke="#2c452c" stroke-width="1.4"/>
<line x1="192.31" y1="612.68" x2="192.31" y2="620.54" stroke="#2c452c" stroke-width="1.4"/>
<line x1="202.50" y1="621.14" x2="202.50" y2="617.94" stroke="#222" stroke-width="1.0"/>
<polyline points="40.70,542.30 61.41,542.30 61.41,550.63 71.44,550.63 71.44,559.07 77.91,559.07 77.91,567.40 79.53,567.40 79.53,584.18 82.12,584.18 82.12,617.72 89.40,617.72 89.40,626.05 109.47,626.05 109.47,642.83 130.18,642.83 130.18,651.27 192.31,651.27 192.31,659.60" fill="none" stroke="#2d6096" stroke-width="1.4" stroke-linejoin="miter" stroke-linecap="butt"/>
<line x1="61.41" y1="542.30" x2="61.41" y2="550.63" stroke="#1a2e48" stroke-width="1.4"/>
<line x1="71.44" y1="550.63" x2="71.44" y2="559.07" stroke="#1a2e48" stroke-width="1.4"/>
<line x1="77.91" y1="559.07" x2="77.91" y2="567.40" stroke="#1a2e48" stroke-width="1.4"/>
<line x1="79.53" y1="567.40" x2="79.53" y2="584.18" stroke="#1a2e48" stroke-width="1.4"/>
<line x1="82.12" y1="584.18" x2="82.12" y2="617.72" stroke="#1a2e48" stroke-width="1.4"/>
<line x1="89.40" y1="617.72" x2="89.40" y2="626.05" stroke="#1a2e48" stroke-width="1.4"/>
<line x1="109.47" y1="626.05" x2="109.47" y2="642.83" stroke="#1a2e48" stroke-width="1.4"/>
<line x1="130.18" y1="642.83" x2="130.18" y2="651.27" stroke="#1a2e48" stroke-width="1.4"/>
<line x1="192.31" y1="651.27" x2="192.31" y2="659.60" stroke="#1a2e48" stroke-width="1.4"/>
<polyline points="40.70,542.30 62.06,542.30 62.06,565.76 76.46,565.76 76.46,577.49 96.68,577.49 96.68,624.41 110.44,624.41 110.44,647.87 125.48,647.87 125.48,659.60" fill="none" stroke="#b8143c" stroke-width="1.4" stroke-linejoin="miter" stroke-linecap="butt"/>
<polyline points="40.70,542.30 104.29,542.30 104.29,555.32 202.50,555.32" fill="none" stroke="#4a2c5e" stroke-width="1.4" stroke-linejoin="miter" stroke-linecap="butt"/>
<line x1="202.50" y1="555.92" x2="202.50" y2="552.72" stroke="#222" stroke-width="1.0"/>
<line x1="40.70" y1="539.20" x2="40.70" y2="660.30" stroke="#231f20" stroke-width="1.4"/>
<line x1="40.00" y1="659.60" x2="238.20" y2="659.60" stroke="#231f20" stroke-width="1.4"/>
<line x1="36.70" y1="659.60" x2="40.70" y2="659.60" stroke="#231f20" stroke-width="1.1"/>
<text x="33.00" y="663.30" font-size="10.4" text-anchor="end" fill="#231f20">0</text>
<line x1="36.70" y1="636.14" x2="40.70" y2="636.14" stroke="#231f20" stroke-width="1.1"/>
<text x="33.00" y="639.84" font-size="10.4" text-anchor="end" fill="#231f20">20</text>
<line x1="36.70" y1="612.68" x2="40.70" y2="612.68" stroke="#231f20" stroke-width="1.1"/>
<text x="33.00" y="616.38" font-size="10.4" text-anchor="end" fill="#231f20">40</text>
<line x1="36.70" y1="589.22" x2="40.70" y2="589.22" stroke="#231f20" stroke-width="1.1"/>
<text x="33.00" y="592.92" font-size="10.4" text-anchor="end" fill="#231f20">60</text>
<line x1="36.70" y1="565.76" x2="40.70" y2="565.76" stroke="#231f20" stroke-width="1.1"/>
<text x="33.00" y="569.46" font-size="10.4" text-anchor="end" fill="#231f20">80</text>
<line x1="36.70" y1="542.30" x2="40.70" y2="542.30" stroke="#231f20" stroke-width="1.1"/>
<text x="33.00" y="546.00" font-size="10.4" text-anchor="end" fill="#231f20">100</text>
<line x1="40.70" y1="659.60" x2="40.70" y2="663.10" stroke="#231f20" stroke-width="1.1"/>
<text x="40.70" y="676.20" font-size="10.4" text-anchor="middle" fill="#231f20">0</text>
<line x1="73.06" y1="659.60" x2="73.06" y2="663.10" stroke="#231f20" stroke-width="1.1"/>
<text x="73.06" y="676.20" font-size="10.4" text-anchor="middle" fill="#231f20">20</text>
<line x1="105.42" y1="659.60" x2="105.42" y2="663.10" stroke="#231f20" stroke-width="1.1"/>
<text x="105.42" y="676.20" font-size="10.4" text-anchor="middle" fill="#231f20">40</text>
<line x1="137.78" y1="659.60" x2="137.78" y2="663.10" stroke="#231f20" stroke-width="1.1"/>
<text x="137.78" y="676.20" font-size="10.4" text-anchor="middle" fill="#231f20">60</text>
<line x1="170.14" y1="659.60" x2="170.14" y2="663.10" stroke="#231f20" stroke-width="1.1"/>
<text x="170.14" y="676.20" font-size="10.4" text-anchor="middle" fill="#231f20">80</text>
<line x1="202.50" y1="659.60" x2="202.50" y2="663.10" stroke="#231f20" stroke-width="1.1"/>
<text x="202.50" y="676.20" font-size="10.4" text-anchor="middle" fill="#231f20">100</text>
<line x1="234.86" y1="659.60" x2="234.86" y2="663.10" stroke="#231f20" stroke-width="1.1"/>
<text x="234.86" y="676.20" font-size="10.4" text-anchor="middle" fill="#231f20">120</text>
<text x="99.30" y="691.60" font-size="10.4" fill="#231f20" textLength="80.80" lengthAdjust="spacingAndGlyphs">Days post allo-HSCT</text>
<text transform="translate(10.40,599.10) rotate(-90)" font-size="10.4" text-anchor="middle" fill="#231f20" textLength="47.60" lengthAdjust="spacingAndGlyphs">Survival (%)</text>
<polyline points="207.20,619.40 213.10,619.40 213.10,655.40 207.20,655.40" fill="none" stroke="#231f20" stroke-width="1.3"/>
<polygon points="216.42,634.90 217.65,634.43 217.72,633.11 218.55,634.13 219.82,633.79 219.11,634.90 219.82,636.01 218.55,635.67 217.72,636.69 217.65,635.37" fill="#1c3a5e" stroke="#1c3a5e" stroke-width="0.35" stroke-linejoin="round"/>
<polygon points="216.42,639.25 217.65,638.78 217.72,637.46 218.55,638.48 219.82,638.14 219.11,639.25 219.82,640.36 218.55,640.02 217.72,641.04 217.65,639.72" fill="#1c3a5e" stroke="#1c3a5e" stroke-width="0.35" stroke-linejoin="round"/>
<polyline points="219.30,619.40 225.70,619.40 225.70,655.40 219.30,655.40" fill="none" stroke="#231f20" stroke-width="1.3"/>
<polygon points="228.72,637.60 229.95,637.13 230.02,635.81 230.85,636.83 232.12,636.49 231.41,637.60 232.12,638.71 230.85,638.37 230.02,639.39 229.95,638.07" fill="#9a1c44" stroke="#9a1c44" stroke-width="0.35" stroke-linejoin="round"/>
<polyline points="234.40,619.40 239.50,619.40 239.50,655.40 234.40,655.40" fill="none" stroke="#231f20" stroke-width="1.3"/>
<polygon points="242.62,631.00 243.85,630.53 243.92,629.21 244.75,630.23 246.02,629.89 245.31,631.00 246.02,632.11 244.75,631.77 243.92,632.79 243.85,631.47" fill="#231f20" stroke="#231f20" stroke-width="0.35" stroke-linejoin="round"/>
<polygon points="242.62,635.35 243.85,634.88 243.92,633.56 244.75,634.58 246.02,634.24 245.31,635.35 246.02,636.46 244.75,636.12 243.92,637.14 243.85,635.82" fill="#231f20" stroke="#231f20" stroke-width="0.35" stroke-linejoin="round"/>
<polygon points="242.62,639.70 243.85,639.23 243.92,637.91 244.75,638.93 246.02,638.59 245.31,639.70 246.02,640.81 244.75,640.47 243.92,641.49 243.85,640.17" fill="#231f20" stroke="#231f20" stroke-width="0.35" stroke-linejoin="round"/>
<polygon points="242.62,644.05 243.85,643.58 243.92,642.26 244.75,643.28 246.02,642.94 245.31,644.05 246.02,645.16 244.75,644.82 243.92,645.84 243.85,644.52" fill="#231f20" stroke="#231f20" stroke-width="0.35" stroke-linejoin="round"/>
<line x1="55.40" y1="704.60" x2="68.80" y2="704.60" stroke="#d8207e" stroke-width="1.3" stroke-dasharray="3.7,6.3,3.7"/>
<line x1="62.10" y1="702.00" x2="62.10" y2="705.00" stroke="#231f20" stroke-width="1.0"/>
<text x="73.50" y="707.60" font-size="8.8" fill="#231f20" textLength="47.80" lengthAdjust="spacingAndGlyphs">TBI (n = 10)</text>
<line x1="55.40" y1="718.30" x2="68.80" y2="718.30" stroke="#4a2c5e" stroke-width="1.3"/>
<line x1="62.10" y1="715.70" x2="62.10" y2="718.70" stroke="#231f20" stroke-width="1.0"/>
<text x="73.50" y="721.30" font-size="8.8" fill="#231f20" textLength="70.70" lengthAdjust="spacingAndGlyphs">TCD-BM (n = 10)</text>
<line x1="55.40" y1="731.70" x2="68.80" y2="731.70" stroke="#4e3a1e" stroke-width="1.3"/>
<line x1="62.10" y1="729.10" x2="62.10" y2="732.10" stroke="#231f20" stroke-width="1.0"/>
<text x="73.50" y="734.70" font-size="8.8" fill="#231f20" textLength="65.10" lengthAdjust="spacingAndGlyphs">aGVHD (n = 15)</text>
<line x1="55.40" y1="745.80" x2="68.80" y2="745.80" stroke="#46aa46" stroke-width="1.3"/>
<line x1="62.10" y1="743.20" x2="62.10" y2="746.20" stroke="#231f20" stroke-width="1.0"/>
<text x="73.50" y="748.80" font-size="8.8" fill="#231f20" textLength="153.70" lengthAdjust="spacingAndGlyphs">Tcon: oIL2R&#946;Treg (5:1) + oIL2 (n = 15)</text>
<line x1="55.40" y1="759.60" x2="68.80" y2="759.60" stroke="#2d6096" stroke-width="1.3"/>
<line x1="62.10" y1="757.00" x2="62.10" y2="760.00" stroke="#231f20" stroke-width="1.0"/>
<text x="73.50" y="762.60" font-size="8.8" fill="#231f20" textLength="151.80" lengthAdjust="spacingAndGlyphs">Tcon: oIL2R&#946;Treg (5:1) + PBS (n = 14)</text>
<line x1="55.40" y1="772.90" x2="68.80" y2="772.90" stroke="#b8143c" stroke-width="1.3"/>
<line x1="62.10" y1="770.30" x2="62.10" y2="773.30" stroke="#231f20" stroke-width="1.0"/>
<text x="73.50" y="775.90" font-size="8.8" fill="#231f20" textLength="154.60" lengthAdjust="spacingAndGlyphs">Tcon: tEGFR Treg (5:1) + oIL2 (n = 10)</text>
<line x1="318.30" y1="704.60" x2="331.70" y2="704.60" stroke="#d8207e" stroke-width="1.3" stroke-dasharray="3.7,6.3,3.7"/>
<line x1="325.00" y1="702.00" x2="325.00" y2="705.00" stroke="#231f20" stroke-width="1.0"/>
<text x="336.10" y="707.60" font-size="8.8" fill="#231f20" textLength="47.80" lengthAdjust="spacingAndGlyphs">TBI (n = 10)</text>
<line x1="318.30" y1="718.40" x2="331.70" y2="718.40" stroke="#4a2c5e" stroke-width="1.3"/>
<line x1="325.00" y1="715.80" x2="325.00" y2="718.80" stroke="#231f20" stroke-width="1.0"/>
<text x="336.10" y="721.40" font-size="8.8" fill="#231f20" textLength="70.70" lengthAdjust="spacingAndGlyphs">TCD-BM (n = 10)</text>
<line x1="318.30" y1="731.60" x2="331.70" y2="731.60" stroke="#4e3a1e" stroke-width="1.3"/>
<line x1="325.00" y1="729.00" x2="325.00" y2="732.00" stroke="#231f20" stroke-width="1.0"/>
<text x="336.10" y="734.60" font-size="8.8" fill="#231f20" textLength="65.10" lengthAdjust="spacingAndGlyphs">aGVHD (n = 15)</text>
<line x1="318.30" y1="745.90" x2="331.70" y2="745.90" stroke="#46aa46" stroke-width="1.3"/>
<line x1="325.00" y1="743.30" x2="325.00" y2="746.30" stroke="#231f20" stroke-width="1.0"/>
<text x="336.10" y="748.90" font-size="8.8" fill="#231f20" textLength="153.70" lengthAdjust="spacingAndGlyphs">Tcon: oIL2R&#946;Treg (5:1) + oIL2 (n = 15)</text>
<line x1="318.30" y1="759.50" x2="331.70" y2="759.50" stroke="#2d6096" stroke-width="1.3"/>
<line x1="325.00" y1="756.90" x2="325.00" y2="759.90" stroke="#231f20" stroke-width="1.0"/>
<text x="336.10" y="762.50" font-size="8.8" fill="#231f20" textLength="151.80" lengthAdjust="spacingAndGlyphs">Tcon: oIL2R&#946;Treg (5:1) + PBS (n = 14)</text>
<line x1="318.30" y1="772.90" x2="331.70" y2="772.90" stroke="#b8143c" stroke-width="1.3"/>
<line x1="325.00" y1="770.30" x2="325.00" y2="773.30" stroke="#231f20" stroke-width="1.0"/>
<text x="336.10" y="775.90" font-size="8.8" fill="#231f20" textLength="154.60" lengthAdjust="spacingAndGlyphs">Tcon: tEGFR Treg (5:1) + oIL2 (n = 10)</text>
<text x="285.60" y="515.80" font-size="14" font-weight="bold" fill="#000" textLength="8.80" lengthAdjust="spacingAndGlyphs">E</text>
<line x1="312.30" y1="528.00" x2="312.30" y2="661.20" stroke="#231f20" stroke-width="1.4"/>
<line x1="311.60" y1="660.50" x2="494.50" y2="660.50" stroke="#231f20" stroke-width="1.4"/>
<line x1="308.50" y1="660.50" x2="312.30" y2="660.50" stroke="#231f20" stroke-width="1.1"/>
<text x="304.60" y="664.20" font-size="10.4" text-anchor="end" fill="#231f20">0</text>
<line x1="308.50" y1="638.95" x2="312.30" y2="638.95" stroke="#231f20" stroke-width="1.1"/>
<text x="304.60" y="642.65" font-size="10.4" text-anchor="end" fill="#231f20">1</text>
<line x1="308.50" y1="617.40" x2="312.30" y2="617.40" stroke="#231f20" stroke-width="1.1"/>
<text x="304.60" y="621.10" font-size="10.4" text-anchor="end" fill="#231f20">2</text>
<line x1="308.50" y1="595.85" x2="312.30" y2="595.85" stroke="#231f20" stroke-width="1.1"/>
<text x="304.60" y="599.55" font-size="10.4" text-anchor="end" fill="#231f20">3</text>
<line x1="308.50" y1="574.30" x2="312.30" y2="574.30" stroke="#231f20" stroke-width="1.1"/>
<text x="304.60" y="578.00" font-size="10.4" text-anchor="end" fill="#231f20">4</text>
<line x1="308.50" y1="552.75" x2="312.30" y2="552.75" stroke="#231f20" stroke-width="1.1"/>
<text x="304.60" y="556.45" font-size="10.4" text-anchor="end" fill="#231f20">5</text>
<line x1="308.50" y1="531.20" x2="312.30" y2="531.20" stroke="#231f20" stroke-width="1.1"/>
<text x="304.60" y="534.90" font-size="10.4" text-anchor="end" fill="#231f20">6</text>
<line x1="312.30" y1="660.50" x2="312.30" y2="663.80" stroke="#231f20" stroke-width="1.1"/>
<text x="312.30" y="676.90" font-size="10.4" text-anchor="middle" fill="#231f20">0</text>
<line x1="372.10" y1="660.50" x2="372.10" y2="663.80" stroke="#231f20" stroke-width="1.1"/>
<text x="372.10" y="676.90" font-size="10.4" text-anchor="middle" fill="#231f20">20</text>
<line x1="431.90" y1="660.50" x2="431.90" y2="663.80" stroke="#231f20" stroke-width="1.1"/>
<text x="431.90" y="676.90" font-size="10.4" text-anchor="middle" fill="#231f20">40</text>
<line x1="491.70" y1="660.50" x2="491.70" y2="663.80" stroke="#231f20" stroke-width="1.1"/>
<text x="491.70" y="676.90" font-size="10.4" text-anchor="middle" fill="#231f20">60</text>
<text x="364.70" y="691.80" font-size="10.4" fill="#231f20" textLength="80.00" lengthAdjust="spacingAndGlyphs">Days post allo-HSCT</text>
<text transform="translate(294.00,593.60) rotate(-90)" font-size="10.4" text-anchor="middle" fill="#231f20" textLength="78.60" lengthAdjust="spacingAndGlyphs">aGVHD clinical score</text>
<line x1="333.23" y1="651.88" x2="333.23" y2="647.14" stroke="#5a3a78" stroke-width="1.1"/>
<line x1="330.93" y1="651.88" x2="335.53" y2="651.88" stroke="#5a3a78" stroke-width="1.1"/>
<line x1="330.93" y1="647.14" x2="335.53" y2="647.14" stroke="#5a3a78" stroke-width="1.1"/>
<polyline points="312.30,660.50 318.28,660.50 333.23,649.51 342.20,654.90 354.16,659.85 366.12,660.50 378.08,657.48 387.05,660.50 402.00,660.50 413.96,658.13 422.93,657.05 440.87,655.76 455.82,650.37 479.74,652.31 491.70,651.02" fill="none" stroke="#4e2472" stroke-width="1.4" stroke-linejoin="round"/>
<rect x="309.75" y="657.95" width="5.10" height="5.10" fill="#4e2472"/>
<rect x="315.73" y="657.95" width="5.10" height="5.10" fill="#4e2472"/>
<rect x="330.68" y="646.96" width="5.10" height="5.10" fill="#4e2472"/>
<rect x="339.65" y="652.35" width="5.10" height="5.10" fill="#4e2472"/>
<rect x="351.61" y="657.30" width="5.10" height="5.10" fill="#4e2472"/>
<rect x="363.57" y="657.95" width="5.10" height="5.10" fill="#4e2472"/>
<rect x="375.53" y="654.93" width="5.10" height="5.10" fill="#4e2472"/>
<rect x="384.50" y="657.95" width="5.10" height="5.10" fill="#4e2472"/>
<rect x="399.45" y="657.95" width="5.10" height="5.10" fill="#4e2472"/>
<rect x="411.41" y="655.58" width="5.10" height="5.10" fill="#4e2472"/>
<rect x="420.38" y="654.50" width="5.10" height="5.10" fill="#4e2472"/>
<rect x="438.32" y="653.21" width="5.10" height="5.10" fill="#4e2472"/>
<rect x="453.27" y="647.82" width="5.10" height="5.10" fill="#4e2472"/>
<rect x="477.19" y="649.76" width="5.10" height="5.10" fill="#4e2472"/>
<rect x="489.15" y="648.47" width="5.10" height="5.10" fill="#4e2472"/>
<line x1="342.20" y1="629.90" x2="342.20" y2="620.42" stroke="#5e4a30" stroke-width="1.1"/>
<line x1="339.90" y1="629.90" x2="344.50" y2="629.90" stroke="#5e4a30" stroke-width="1.1"/>
<line x1="339.90" y1="620.42" x2="344.50" y2="620.42" stroke="#5e4a30" stroke-width="1.1"/>
<line x1="354.16" y1="623.65" x2="354.16" y2="614.81" stroke="#5e4a30" stroke-width="1.1"/>
<line x1="351.86" y1="623.65" x2="356.46" y2="623.65" stroke="#5e4a30" stroke-width="1.1"/>
<line x1="351.86" y1="614.81" x2="356.46" y2="614.81" stroke="#5e4a30" stroke-width="1.1"/>
<line x1="366.12" y1="627.96" x2="366.12" y2="615.68" stroke="#5e4a30" stroke-width="1.1"/>
<line x1="363.82" y1="627.96" x2="368.42" y2="627.96" stroke="#5e4a30" stroke-width="1.1"/>
<line x1="363.82" y1="615.68" x2="368.42" y2="615.68" stroke="#5e4a30" stroke-width="1.1"/>
<line x1="378.08" y1="621.71" x2="378.08" y2="617.83" stroke="#5e4a30" stroke-width="1.1"/>
<line x1="375.78" y1="621.71" x2="380.38" y2="621.71" stroke="#5e4a30" stroke-width="1.1"/>
<line x1="375.78" y1="617.83" x2="380.38" y2="617.83" stroke="#5e4a30" stroke-width="1.1"/>
<line x1="387.05" y1="612.01" x2="387.05" y2="604.04" stroke="#5e4a30" stroke-width="1.1"/>
<line x1="384.75" y1="612.01" x2="389.35" y2="612.01" stroke="#5e4a30" stroke-width="1.1"/>
<line x1="384.75" y1="604.04" x2="389.35" y2="604.04" stroke="#5e4a30" stroke-width="1.1"/>
<line x1="402.00" y1="590.68" x2="402.00" y2="562.88" stroke="#5e4a30" stroke-width="1.1"/>
<line x1="399.70" y1="590.68" x2="404.30" y2="590.68" stroke="#5e4a30" stroke-width="1.1"/>
<line x1="399.70" y1="562.88" x2="404.30" y2="562.88" stroke="#5e4a30" stroke-width="1.1"/>
<line x1="413.96" y1="576.46" x2="413.96" y2="540.25" stroke="#5e4a30" stroke-width="1.1"/>
<line x1="411.66" y1="576.46" x2="416.26" y2="576.46" stroke="#5e4a30" stroke-width="1.1"/>
<line x1="411.66" y1="540.25" x2="416.26" y2="540.25" stroke="#5e4a30" stroke-width="1.1"/>
<polyline points="333.23,649.29 342.20,624.73 354.16,619.55 366.12,621.49 378.08,619.99 387.05,607.92 402.00,575.81 413.96,557.92 422.93,574.30 440.87,574.30" fill="none" stroke="#4e3a1e" stroke-width="1.4" stroke-linejoin="round"/>
<path d="M342.20,627.58 L345.05,622.59 L339.35,622.59 Z" fill="#4e3a1e"/>
<path d="M354.16,622.40 L357.01,617.42 L351.31,617.42 Z" fill="#4e3a1e"/>
<path d="M366.12,624.34 L368.97,619.36 L363.27,619.36 Z" fill="#4e3a1e"/>
<path d="M378.08,622.84 L380.93,617.85 L375.23,617.85 Z" fill="#4e3a1e"/>
<path d="M387.05,610.77 L389.90,605.78 L384.20,605.78 Z" fill="#4e3a1e"/>
<path d="M402.00,578.66 L404.85,573.67 L399.15,573.67 Z" fill="#4e3a1e"/>
<path d="M413.96,560.77 L416.81,555.78 L411.11,555.78 Z" fill="#4e3a1e"/>
<path d="M422.93,577.15 L425.78,572.16 L420.08,572.16 Z" fill="#4e3a1e"/>
<path d="M440.87,577.15 L443.72,572.16 L438.02,572.16 Z" fill="#4e3a1e"/>
<line x1="455.82" y1="633.13" x2="455.82" y2="620.42" stroke="#4a9a4a" stroke-width="1.1"/>
<line x1="453.52" y1="633.13" x2="458.12" y2="633.13" stroke="#4a9a4a" stroke-width="1.1"/>
<line x1="453.52" y1="620.42" x2="458.12" y2="620.42" stroke="#4a9a4a" stroke-width="1.1"/>
<line x1="479.74" y1="633.35" x2="479.74" y2="620.42" stroke="#4a9a4a" stroke-width="1.1"/>
<line x1="477.44" y1="633.35" x2="482.04" y2="633.35" stroke="#4a9a4a" stroke-width="1.1"/>
<line x1="477.44" y1="620.42" x2="482.04" y2="620.42" stroke="#4a9a4a" stroke-width="1.1"/>
<line x1="491.70" y1="631.19" x2="491.70" y2="620.42" stroke="#4a9a4a" stroke-width="1.1"/>
<line x1="489.40" y1="631.19" x2="494.00" y2="631.19" stroke="#4a9a4a" stroke-width="1.1"/>
<line x1="489.40" y1="620.42" x2="494.00" y2="620.42" stroke="#4a9a4a" stroke-width="1.1"/>
<polyline points="333.23,660.50 342.20,650.16 354.16,648.65 366.12,648.00 378.08,641.75 387.05,639.60 402.00,636.79 413.96,643.04 422.93,639.17 440.87,640.46 455.82,626.67 479.74,626.67 491.70,625.80" fill="none" stroke="#46aa46" stroke-width="1.4" stroke-linejoin="round"/>
<rect x="339.65" y="647.61" width="5.10" height="5.10" fill="#46aa46"/>
<rect x="351.61" y="646.10" width="5.10" height="5.10" fill="#46aa46"/>
<rect x="363.57" y="645.45" width="5.10" height="5.10" fill="#46aa46"/>
<rect x="375.53" y="639.20" width="5.10" height="5.10" fill="#46aa46"/>
<rect x="384.50" y="637.05" width="5.10" height="5.10" fill="#46aa46"/>
<rect x="399.45" y="634.25" width="5.10" height="5.10" fill="#46aa46"/>
<rect x="411.41" y="640.49" width="5.10" height="5.10" fill="#46aa46"/>
<rect x="420.38" y="636.62" width="5.10" height="5.10" fill="#46aa46"/>
<rect x="438.32" y="637.91" width="5.10" height="5.10" fill="#46aa46"/>
<rect x="453.27" y="624.12" width="5.10" height="5.10" fill="#46aa46"/>
<rect x="477.19" y="624.12" width="5.10" height="5.10" fill="#46aa46"/>
<rect x="489.15" y="623.25" width="5.10" height="5.10" fill="#46aa46"/>
<line x1="342.20" y1="647.14" x2="342.20" y2="640.03" stroke="#962240" stroke-width="1.1"/>
<line x1="339.90" y1="647.14" x2="344.50" y2="647.14" stroke="#962240" stroke-width="1.1"/>
<line x1="339.90" y1="640.03" x2="344.50" y2="640.03" stroke="#962240" stroke-width="1.1"/>
<line x1="354.16" y1="641.54" x2="354.16" y2="629.04" stroke="#962240" stroke-width="1.1"/>
<line x1="351.86" y1="641.54" x2="356.46" y2="641.54" stroke="#962240" stroke-width="1.1"/>
<line x1="351.86" y1="629.04" x2="356.46" y2="629.04" stroke="#962240" stroke-width="1.1"/>
<line x1="366.12" y1="636.36" x2="366.12" y2="629.90" stroke="#962240" stroke-width="1.1"/>
<line x1="363.82" y1="636.36" x2="368.42" y2="636.36" stroke="#962240" stroke-width="1.1"/>
<line x1="363.82" y1="629.90" x2="368.42" y2="629.90" stroke="#962240" stroke-width="1.1"/>
<line x1="378.08" y1="625.59" x2="378.08" y2="618.48" stroke="#962240" stroke-width="1.1"/>
<line x1="375.78" y1="625.59" x2="380.38" y2="625.59" stroke="#962240" stroke-width="1.1"/>
<line x1="375.78" y1="618.48" x2="380.38" y2="618.48" stroke="#962240" stroke-width="1.1"/>
<line x1="387.05" y1="624.94" x2="387.05" y2="601.02" stroke="#962240" stroke-width="1.1"/>
<line x1="384.75" y1="624.94" x2="389.35" y2="624.94" stroke="#962240" stroke-width="1.1"/>
<line x1="384.75" y1="601.02" x2="389.35" y2="601.02" stroke="#962240" stroke-width="1.1"/>
<line x1="402.00" y1="606.19" x2="402.00" y2="585.72" stroke="#962240" stroke-width="1.1"/>
<line x1="399.70" y1="606.19" x2="404.30" y2="606.19" stroke="#962240" stroke-width="1.1"/>
<line x1="399.70" y1="585.72" x2="404.30" y2="585.72" stroke="#962240" stroke-width="1.1"/>
<line x1="413.96" y1="596.93" x2="413.96" y2="563.96" stroke="#962240" stroke-width="1.1"/>
<line x1="411.66" y1="596.93" x2="416.26" y2="596.93" stroke="#962240" stroke-width="1.1"/>
<line x1="411.66" y1="563.96" x2="416.26" y2="563.96" stroke="#962240" stroke-width="1.1"/>
<line x1="422.93" y1="589.17" x2="422.93" y2="554.90" stroke="#962240" stroke-width="1.1"/>
<line x1="420.63" y1="589.17" x2="425.23" y2="589.17" stroke="#962240" stroke-width="1.1"/>
<line x1="420.63" y1="554.90" x2="425.23" y2="554.90" stroke="#962240" stroke-width="1.1"/>
<line x1="440.87" y1="609.00" x2="440.87" y2="590.46" stroke="#962240" stroke-width="1.1"/>
<line x1="438.57" y1="609.00" x2="443.17" y2="609.00" stroke="#962240" stroke-width="1.1"/>
<line x1="438.57" y1="590.46" x2="443.17" y2="590.46" stroke="#962240" stroke-width="1.1"/>
<line x1="455.82" y1="584.64" x2="455.82" y2="553.61" stroke="#962240" stroke-width="1.1"/>
<line x1="453.52" y1="584.64" x2="458.12" y2="584.64" stroke="#962240" stroke-width="1.1"/>
<line x1="453.52" y1="553.61" x2="458.12" y2="553.61" stroke="#962240" stroke-width="1.1"/>
<polyline points="333.23,660.50 342.20,643.26 354.16,635.29 366.12,633.13 378.08,621.93 387.05,613.09 402.00,597.57 413.96,580.33 422.93,571.50 440.87,599.51 455.82,567.19" fill="none" stroke="#b8143c" stroke-width="1.4" stroke-linejoin="round"/>
<path d="M342.20,646.41 L345.35,640.90 L339.05,640.90 Z" fill="#fff" stroke="#b8143c" stroke-width="1.1"/>
<path d="M354.16,638.44 L357.31,632.92 L351.01,632.92 Z" fill="#fff" stroke="#b8143c" stroke-width="1.1"/>
<path d="M366.12,636.28 L369.27,630.77 L362.97,630.77 Z" fill="#fff" stroke="#b8143c" stroke-width="1.1"/>
<path d="M378.08,625.08 L381.23,619.56 L374.93,619.56 Z" fill="#fff" stroke="#b8143c" stroke-width="1.1"/>
<path d="M387.05,616.24 L390.20,610.73 L383.90,610.73 Z" fill="#fff" stroke="#b8143c" stroke-width="1.1"/>
<path d="M402.00,600.72 L405.15,595.21 L398.85,595.21 Z" fill="#fff" stroke="#b8143c" stroke-width="1.1"/>
<path d="M413.96,583.48 L417.11,577.97 L410.81,577.97 Z" fill="#fff" stroke="#b8143c" stroke-width="1.1"/>
<path d="M422.93,574.65 L426.08,569.14 L419.78,569.14 Z" fill="#fff" stroke="#b8143c" stroke-width="1.1"/>
<path d="M440.87,602.66 L444.02,597.15 L437.72,597.15 Z" fill="#fff" stroke="#b8143c" stroke-width="1.1"/>
<path d="M455.82,570.34 L458.97,564.83 L452.67,564.83 Z" fill="#fff" stroke="#b8143c" stroke-width="1.1"/>
<line x1="354.16" y1="635.07" x2="354.16" y2="629.90" stroke="#2f5f95" stroke-width="1.1"/>
<line x1="351.86" y1="635.07" x2="356.46" y2="635.07" stroke="#2f5f95" stroke-width="1.1"/>
<line x1="351.86" y1="629.90" x2="356.46" y2="629.90" stroke="#2f5f95" stroke-width="1.1"/>
<line x1="366.12" y1="633.56" x2="366.12" y2="629.04" stroke="#2f5f95" stroke-width="1.1"/>
<line x1="363.82" y1="633.56" x2="368.42" y2="633.56" stroke="#2f5f95" stroke-width="1.1"/>
<line x1="363.82" y1="629.04" x2="368.42" y2="629.04" stroke="#2f5f95" stroke-width="1.1"/>
<line x1="402.00" y1="620.42" x2="402.00" y2="606.41" stroke="#2f5f95" stroke-width="1.1"/>
<line x1="399.70" y1="620.42" x2="404.30" y2="620.42" stroke="#2f5f95" stroke-width="1.1"/>
<line x1="399.70" y1="606.41" x2="404.30" y2="606.41" stroke="#2f5f95" stroke-width="1.1"/>
<line x1="413.96" y1="623.22" x2="413.96" y2="609.21" stroke="#2f5f95" stroke-width="1.1"/>
<line x1="411.66" y1="623.22" x2="416.26" y2="623.22" stroke="#2f5f95" stroke-width="1.1"/>
<line x1="411.66" y1="609.21" x2="416.26" y2="609.21" stroke="#2f5f95" stroke-width="1.1"/>
<line x1="422.93" y1="604.04" x2="422.93" y2="588.52" stroke="#2f5f95" stroke-width="1.1"/>
<line x1="420.63" y1="604.04" x2="425.23" y2="604.04" stroke="#2f5f95" stroke-width="1.1"/>
<line x1="420.63" y1="588.52" x2="425.23" y2="588.52" stroke="#2f5f95" stroke-width="1.1"/>
<line x1="440.87" y1="603.18" x2="440.87" y2="588.09" stroke="#2f5f95" stroke-width="1.1"/>
<line x1="438.57" y1="603.18" x2="443.17" y2="603.18" stroke="#2f5f95" stroke-width="1.1"/>
<line x1="438.57" y1="588.09" x2="443.17" y2="588.09" stroke="#2f5f95" stroke-width="1.1"/>
<line x1="455.82" y1="599.51" x2="455.82" y2="566.11" stroke="#2f5f95" stroke-width="1.1"/>
<line x1="453.52" y1="599.51" x2="458.12" y2="599.51" stroke="#2f5f95" stroke-width="1.1"/>
<line x1="453.52" y1="566.11" x2="458.12" y2="566.11" stroke="#2f5f95" stroke-width="1.1"/>
<line x1="491.70" y1="603.61" x2="491.70" y2="596.28" stroke="#2f5f95" stroke-width="1.1"/>
<line x1="489.40" y1="603.61" x2="494.00" y2="603.61" stroke="#2f5f95" stroke-width="1.1"/>
<line x1="489.40" y1="596.28" x2="494.00" y2="596.28" stroke="#2f5f95" stroke-width="1.1"/>
<polyline points="333.23,660.50 342.20,639.60 354.16,632.49 366.12,631.19 378.08,635.07 387.05,635.50 402.00,613.09 413.96,616.11 422.93,595.85 440.87,595.85 455.82,582.27 479.74,599.51 491.70,599.51" fill="none" stroke="#1d4474" stroke-width="1.4" stroke-linejoin="round"/>
<circle cx="333.23" cy="660.50" r="2.55" fill="#1d4474"/>
<circle cx="342.20" cy="639.60" r="2.55" fill="#1d4474"/>
<circle cx="354.16" cy="632.49" r="2.55" fill="#1d4474"/>
<circle cx="366.12" cy="631.19" r="2.55" fill="#1d4474"/>
<circle cx="378.08" cy="635.07" r="2.55" fill="#1d4474"/>
<circle cx="387.05" cy="635.50" r="2.55" fill="#1d4474"/>
<circle cx="402.00" cy="613.09" r="2.55" fill="#1d4474"/>
<circle cx="413.96" cy="616.11" r="2.55" fill="#1d4474"/>
<circle cx="422.93" cy="595.85" r="2.55" fill="#1d4474"/>
<circle cx="440.87" cy="595.85" r="2.55" fill="#1d4474"/>
<circle cx="455.82" cy="582.27" r="2.55" fill="#1d4474"/>
<circle cx="479.74" cy="599.51" r="2.55" fill="#1d4474"/>
<circle cx="491.70" cy="599.51" r="2.55" fill="#1d4474"/>
<polyline points="505.00,570.30 512.40,570.30 512.40,625.00 505.00,625.00" fill="none" stroke="#231f20" stroke-width="1.3"/>
<polygon points="514.54,598.50 515.82,598.01 515.90,596.64 516.76,597.70 518.08,597.35 517.34,598.50 518.08,599.65 516.76,599.30 515.90,600.36 515.82,598.99" fill="#231f20" stroke="#231f20" stroke-width="0.35" stroke-linejoin="round"/>
<defs><g id="bm"><path d="M-16.3,1.9 C-12.5,0.8 -9.8,-3.0 -6.3,-3.3 C-3.0,-3.6 -0.6,-2.6 0.0,0.8" fill="none" stroke="#1a1a1a" stroke-width="0.95"/><ellipse cx="0" cy="6.6" rx="7.0" ry="6.6" fill="#0e0c0c"/><path d="M-8.0,10.2 C-8.6,13.8 -5.6,15.6 -3.6,17.6 L-1.3,20.3 Q0,21.2 1.3,20.3 L3.6,17.6 C5.6,15.6 8.6,13.8 8.0,10.2 Z" fill="#0e0c0c"/><ellipse cx="-5.3" cy="11.5" rx="3.5" ry="2.35" fill="#eee0c0" stroke="#0e0c0c" stroke-width="0.55"/><ellipse cx="5.3" cy="11.5" rx="3.5" ry="2.35" fill="#eee0c0" stroke="#0e0c0c" stroke-width="0.55"/><circle cx="-2.3" cy="16.0" r="0.6" fill="#c8c8c8"/><circle cx="2.3" cy="16.0" r="0.6" fill="#c8c8c8"/><circle cx="0" cy="19.4" r="0.55" fill="#d8d8d8"/><path d="M-3,18.6 L-7,18.2 M-3,19.2 L-6.5,20.6 M3,18.6 L7,18.2 M3,19.2 L6.5,20.6" stroke="#9a9a9a" stroke-width="0.35"/></g></defs>
<use href="#bm" transform="translate(170.6,20.5)"/>
<use href="#bm" transform="translate(224.4,21.0)"/>
<use href="#bm" transform="translate(242.2,158.6) scale(0.89,0.93)"/>
<g transform="translate(189.8,142.5)"><path d="M-20.3,2.3 C-15.5,0.5 -12.5,-3.6 -8.4,-4.3 C-4.2,-4.9 -1.0,-3.2 0.0,0.2" fill="none" stroke="#8c8c8c" stroke-width="1.5"/><path d="M0,0 C6,0 10.2,4 10.2,9.5 C10.2,11.5 10.8,13 10.2,14.5 C9.5,17.5 6.5,19.5 4.3,21.8 L1.4,24.8 Q0,25.8 -1.4,24.8 L-4.3,21.8 C-6.5,19.5 -9.5,17.5 -10.2,14.5 C-10.8,13 -10.2,11.5 -10.2,9.5 C-10.2,4 -6,0 0,0 Z" fill="#fff" stroke="#1c1c1c" stroke-width="0.8"/><path d="M-10.8,13.4 C-10.0,9.8 -5.0,9.4 -3.4,12.0" fill="none" stroke="#111" stroke-width="1.8"/><path d="M10.8,13.4 C10.0,9.8 5.0,9.4 3.4,12.0" fill="none" stroke="#111" stroke-width="1.8"/><path d="M-10.6,13.6 C-10.6,16.2 -8.5,17.2 -7.0,17.0 M10.6,13.6 C10.6,16.2 8.5,17.2 7.0,17.0" fill="none" stroke="#333" stroke-width="0.5"/><circle cx="-3.0" cy="20.6" r="0.95" fill="#111"/><circle cx="2.7" cy="20.6" r="0.95" fill="#111"/><circle cx="-0.2" cy="24.4" r="0.7" fill="#111"/><path d="M-2.5,23.2 L-8.5,21.6 M-2.5,23.8 L-8.8,24.8 M-2.3,24.4 L-6.8,27.6 M2.3,23.2 L8.3,21.6 M2.3,23.8 L8.6,24.8 M2.1,24.4 L6.6,27.6" stroke="#555" stroke-width="0.45"/></g>
<g fill="#2a2a2a" stroke="#2a2a2a" stroke-width="1.6"><circle cx="163.2" cy="54.9" r="1.9"/><circle cx="163.2" cy="58.9" r="1.9"/><circle cx="181.6" cy="54.9" r="1.9"/><circle cx="181.6" cy="58.9" r="1.9"/><rect x="163.5" y="55.6" width="17.8" height="2.6"/></g>
<g fill="#fff" stroke="none"><circle cx="163.2" cy="54.9" r="1.9"/><circle cx="163.2" cy="58.9" r="1.9"/><circle cx="181.6" cy="54.9" r="1.9"/><circle cx="181.6" cy="58.9" r="1.9"/><rect x="163.5" y="55.6" width="17.8" height="2.6"/></g>
<circle cx="224.6" cy="57.3" r="8.4" fill="#fcf4e8"/>
<circle cx="226.4" cy="59.6" r="4.5" fill="url(#tregg)"/>
<path d="M216.0,49.9 L222.0,56.7" stroke="#4a2a2a" stroke-width="1.2" stroke-linecap="round"/>
<path d="M231.9,46.7 L229.3,49.9" stroke="#5a1a1a" stroke-width="2.2" stroke-linecap="round"/>
</svg>
</body></html>
